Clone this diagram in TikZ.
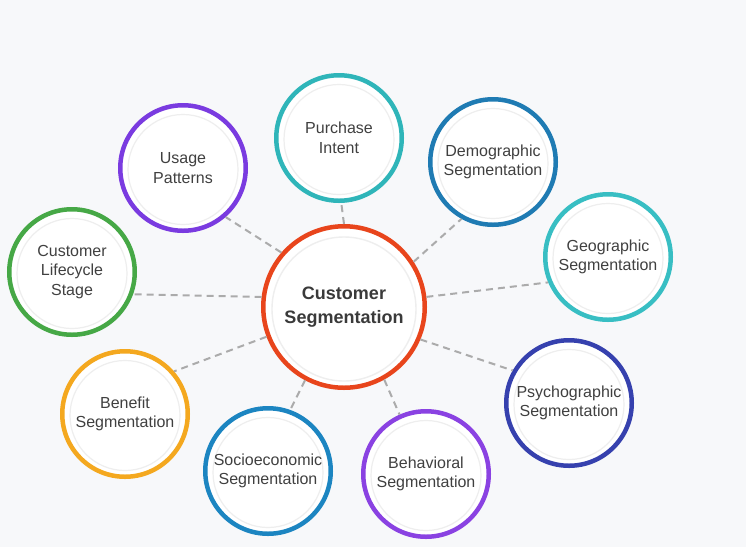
\documentclass[tikz,border=0pt]{standalone}
\usepackage{fontspec}
\setmainfont{Liberation Sans}
\definecolor{bg}{HTML}{F7F8FA}
\definecolor{txt}{HTML}{404040}
\definecolor{ctxt}{HTML}{3A3A3A}
\definecolor{dash}{HTML}{ABABAB}
\definecolor{cmain}{HTML}{E8451C}
\definecolor{cpi}{HTML}{2FB5B9}
\definecolor{cup}{HTML}{7A3BE0}
\definecolor{cdm}{HTML}{1F7BB3}
\definecolor{cgeo}{HTML}{38BEC3}
\definecolor{clc}{HTML}{46A846}
\definecolor{cbn}{HTML}{F4A81F}
\definecolor{cse}{HTML}{1C85C1}
\definecolor{cbh}{HTML}{8A42E2}
\definecolor{cps}{HTML}{3641AE}
\begin{document}
\begin{tikzpicture}[x=1pt,y=-1pt,
  sat/.style={circle, draw=#1, line width=4.5pt, fill=white, minimum size=125.5pt,
    inner sep=0pt, align=center, font=\fontsize{16}{19.5}\selectfont, text=txt,
    path picture={\draw[gray!13, line width=1.2pt] ([yshift=-1.5pt]path picture bounding box.center) circle (55pt);}},
  mainnode/.style={circle, draw=cmain, line width=4.5pt, fill=white, minimum size=161.5pt,
    inner sep=0pt, align=center, font=\fontsize{18}{24.5}\selectfont\bfseries, text=ctxt,
    path picture={\draw[gray!13, line width=1.4pt] ([yshift=-2pt]path picture bounding box.center) circle (72pt);}},
  link/.style={draw=dash, line width=2pt, dash pattern=on 7pt off 5pt}
]
\fill[bg] (0,0) rectangle (746,547);
\useasboundingbox (0,0) rectangle (746,547);

\node[mainnode] (c) at (344,307) {Customer\\Segmentation};
\node[sat=cpi] (pi) at (339,138) {Purchase\\Intent};
\node[sat=cup] (up) at (183,168) {Usage\\Patterns};
\node[sat=cdm] (dm) at (493,162) {Demographic\\Segmentation};
\node[sat=cgeo] (geo) at (608,257) {Geographic\\Segmentation};
\node[sat=clc] (lc) at (72,272) {Customer\\Lifecycle\\Stage};
\node[sat=cbn] (bn) at (125,414) {Benefit\\Segmentation};
\node[sat=cse] (se) at (268,471) {Socioeconomic\\Segmentation};
\node[sat=cbh] (bh) at (426,474) {Behavioral\\Segmentation};
\node[sat=cps] (ps) at (569,403) {Psychographic\\Segmentation};

\path[link] (c.90) -- (pi.-88);
\path[link] (c.139) -- (up.-49);
\path[link] (c.33) -- (dm.-119);
\path[link] (c.7.5) -- (geo.-157);
\path[link] (c.173) -- (lc.-20);
\path[link] (c.201) -- (bn.41);
\path[link] (c.242) -- (se.70);
\path[link] (c.-61) -- (bh.114);
\path[link] (c.-23) -- (ps.150);
\end{tikzpicture}
\end{document}
